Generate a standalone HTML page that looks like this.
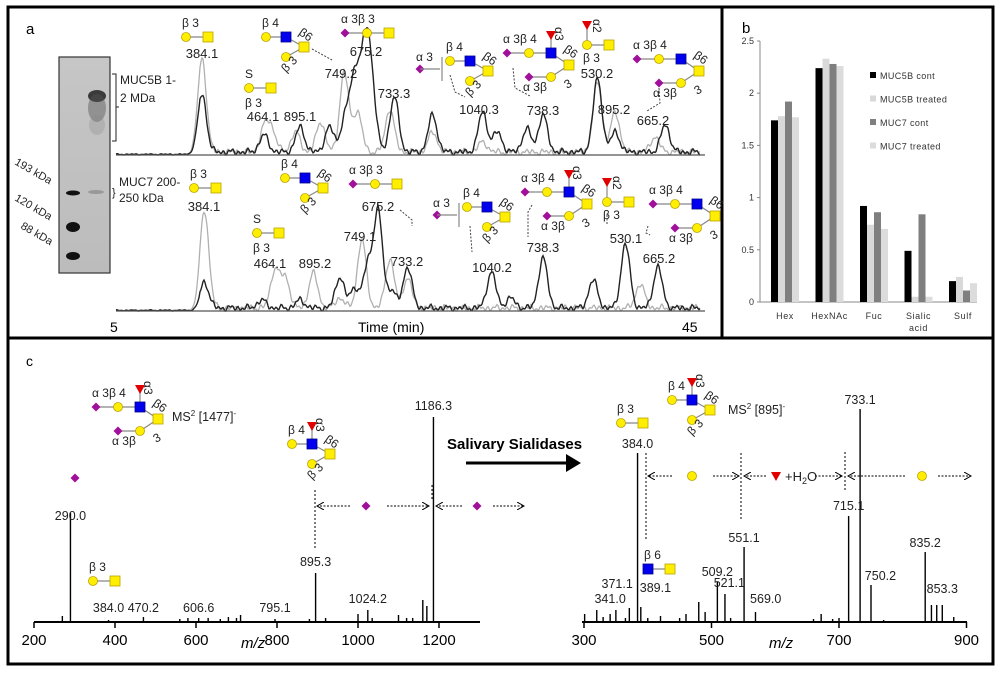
<!DOCTYPE html>
<html><head><meta charset="utf-8"><style>
html,body{margin:0;padding:0;background:#fff}
svg{display:block;font-family:"Liberation Sans",sans-serif}
</style></head><body>
<svg id="fig" width="1000" height="674" viewBox="0 0 1000 674">
<defs>
<linearGradient id="gel" x1="0" y1="0" x2="0" y2="1"><stop offset="0" stop-color="#c6c6c6"/><stop offset="1" stop-color="#bcbcbc"/></linearGradient>
<marker id="ah" markerWidth="8" markerHeight="8" refX="7" refY="4" orient="auto"><path d="M0,0 L7,4 L0,8" fill="none" stroke="#000" stroke-width="1"/></marker>
<marker id="bigah" markerWidth="6" markerHeight="6" refX="4" refY="3" orient="auto"><path d="M0,0 L5,3 L0,6 Z" fill="#000"/></marker>
</defs>
<rect x="8" y="7" width="985" height="657" fill="none" stroke="#000" stroke-width="3"/>
<line x1="722" y1="7" x2="722" y2="338" stroke="#000" stroke-width="3"/>
<line x1="8" y1="338" x2="993" y2="338" stroke="#000" stroke-width="3"/>
<text x="26" y="34" font-size="15">a</text>
<text x="742" y="33" font-size="15">b</text>
<text x="26" y="366" font-size="14">c</text>

<g>
<rect x="59" y="57" width="51" height="216" fill="url(#gel)" stroke="#333" stroke-width="1.2"/>
<ellipse cx="97" cy="96" rx="9" ry="6" fill="#222" opacity="0.85"/>
<ellipse cx="97" cy="108" rx="9" ry="14" fill="#555" opacity="0.45"/>
<ellipse cx="97" cy="125" rx="8" ry="10" fill="#888" opacity="0.3"/>
<ellipse cx="96" cy="192" rx="8" ry="2" fill="#999"/>
<ellipse cx="73" cy="193" rx="7" ry="2.5" fill="#111"/>
<ellipse cx="73" cy="227" rx="7" ry="5" fill="#111"/>
<ellipse cx="73" cy="256" rx="7" ry="4" fill="#111"/>
</g>
<g font-size="12" fill="#222">
<text x="120" y="84">MUC5B 1-</text><text x="120" y="102">2 MDa</text>
<path d="M112,74 h4 v67 h-4 M116,107 h3" fill="none" stroke="#222"/>
<text x="119" y="186">MUC7 200-</text><text x="119" y="202">250 kDa</text>
<text x="112" y="196" font-size="11">}</text>
<text transform="translate(14,164) rotate(30)" font-size="11">193 kDa</text>
<text transform="translate(14,200) rotate(30)" font-size="11">120 kDa</text>
<text transform="translate(20,228) rotate(30)" font-size="11">88 kDa</text>
</g>
<g id="chrom"></g>
<g id="barb"></g>
<g id="specs"></g>
<g id="glycans"></g>
</svg>
<script>
// ---------- Panel a chromatogram data (retention time min, intensity a.u.) ----------
const topBlackTimes=[10.84,15.05,17.5,19.5,20.5,21.0,21.4,21.98,22.4,23.9,26.5,29.9,30.9,32.9,34.0,37.7,38.9,42.3];
const topBlackInt=[58,17,25,25,27,40,60,97,50,55,37,40,20,23,37,73,20,27];
const topGrayTimes=[10.84,15.1,15.6,17.2,18.9,20.5,21.4,23.6,26.5,29.9,37.7,38.9,41.6];
const topGrayInt=[93,25,20,20,30,80,40,43,20,10,70,40,15];
const botBlackTimes=[11.0,14.9,17.5,20.2,21.2,22.1,22.8,23.7,24.8,30.5,31.8,34.0,37.4,39.6,41.8];
const botBlackInt=[26,8,8,31,20,43,96,18,41,36,10,50,28,64,41];
const botGrayTimes=[11.0,15.8,16.5,18.4,20.2,21.7,23.6,24.8,40.6];
const botGrayInt=[98,38,30,35,10,68,49,30,24];
// ---------- Panel b data ----------
const bCategories=["Hex","HexNAc","Fuc","Sialic acid","Sulf"];
const bSeriesNames=["MUC5B cont","MUC5B treated","MUC7 cont","MUC7 treated"];
const muc5bCont=[1.74,2.24,0.92,0.49,0.20];
const muc5bTreated=[1.78,2.33,0.74,0.05,0.24];
const muc7Cont=[1.92,2.28,0.86,0.84,0.11];
const muc7Treated=[1.77,2.26,0.70,0.05,0.18];
const bTicks=[0,0.5,1,1.5,2,2.5];
// ---------- Panel c spectra data ----------
const leftMz=[270,290.0,384.0,470.2,560,580,606.6,630,660,680,700,710,795.1,880,895.3,920,1000,1024.2,1035,1100,1120,1135,1160,1170,1186.3];
const leftInt=[6,109,2,5,3,4,4,4,3,5,4,7,3,3,49,4,8,12,4,7,4,4,22,16,205];
const leftLabels=[["290.0",290,520],["384.0",384,612],["470.2",470,612],["606.6",606.6,612],["795.1",795.1,612],["895.3",895.3,566],["1024.2",1024.2,603],["1186.3",1186.3,410]];
const leftTicks=[200,400,600,800,1000,1200];
const rightMz=[301,320,330,341.0,350,365,371.1,384.0,389.1,400,420,450,460,480,490,509.2,521.1,530,551.1,569.0,660,672,690,700,715.1,733.1,750.2,770,835.2,845,853.3,862,880];
const rightInt=[8,12,5,8,12,4,14,169,15,4,6,4,8,20,10,40,28,4,75,10,3,8,3,4,106,213,37,2,70,17,17,17,5];
const rightLabels=[["341.0",341,603],["371.1",352,588],["389.1",412,592],["384.0",384,448],["509.2",509.2,576],["521.1",528,587],["551.1",551.1,542],["569.0",585,603],["715.1",715.1,510],["733.1",733.1,404],["750.2",765,580],["835.2",835.2,547],["853.3",862,593]];
const rightTicks=[300,500,700,900];

const NS="http://www.w3.org/2000/svg";
function mk(parent,tag,attrs,text){const e=document.createElementNS(NS,tag);for(const k in attrs)e.setAttribute(k,attrs[k]);if(text!==undefined)e.textContent=text;parent.appendChild(e);return e;}

// ----- chromatograms -----
const chrom=document.getElementById('chrom');
function trace(times,ints,base,color,name,width,ph){
  let d="";
  for(let x=116;x<=700;x+=1){
    const t=5+(x-116)*40/589;
    let v=0;
    for(let i=0;i<times.length;i++){const dt=(t-times[i])/0.3;v+=ints[i]*Math.exp(-dt*dt/2);}
    let n=3+2.5*Math.sin(x*0.55+ph)*Math.sin(x*0.17+ph)+1.5*Math.sin(x*1.3+ph);
    if(x<200)n*=0.2;
    v+=Math.max(0,n);
    d+=(x===116?"M":"L")+x+","+(base-v).toFixed(1);
  }
  const p=mk(chrom,'path',{d:d,fill:'none',stroke:color,'stroke-width':width});
  
  
}
trace(topGrayTimes,topGrayInt,155,'#b0b0b0','muc5b-treated-trace',1.3,1.0);
trace(topBlackTimes,topBlackInt,155,'#222','muc5b-control-trace',1.4,0);
trace(botGrayTimes,botGrayInt,311,'#b0b0b0','muc7-treated-trace',1.3,2.0);
trace(botBlackTimes,botBlackInt,311,'#222','muc7-control-trace',1.4,0.5);
let ax1=mk(chrom,'line',{x1:116,y1:155,x2:705,y2:155,stroke:'#555','stroke-width':1.3});

let ax2=mk(chrom,'line',{x1:116,y1:311,x2:705,y2:311,stroke:'#555','stroke-width':1.3});

let t5=mk(chrom,'text',{x:110,y:332,'font-size':14},'5');
let t45=mk(chrom,'text',{x:682,y:332,'font-size':14},'45');
let tt=mk(chrom,'text',{x:358,y:332,'font-size':14},'Time (min)');
const chromLabels=[["384.1",202,58],["464.1",263,121],["895.1",300,121],["749.2",341,78],["675.2",366,56],["733.3",394,98],["1040.3",479,114],["738.3",543,115],["530.2",597,78],["895.2",614,114],["665.2",653,125],
["384.1",204,211],["464.1",270,268],["895.2",315,268],["749.1",360,241],["675.2",378,211],["733.2",407,266],["1040.2",492,272],["738.3",543,252],["530.1",626,243],["665.2",659,263]];
chromLabels.forEach(l=>{const e=mk(chrom,'text',{x:l[1],y:l[2],'font-size':13,'text-anchor':'middle',fill:'#222'},l[0]);});
const leaders=["M312,49 L332,60","M450,75 L455,92 L465,97","M513,68 L515,88 L530,96","M659,88 L660,103 L647,111","M400,210 L412,220 L412,226","M470,226 L472,252","M532,205 L528,212 L528,237","M648,226 L646,233 L650,235","M607,215 L607,225"];
leaders.forEach(d=>{const e=mk(chrom,'path',{d:d,fill:'none',stroke:'#444','stroke-dasharray':'2,1.5'});});

// ----- panel b bar chart -----
const barb=document.getElementById('barb');
const by=v=>302-v*(261/2.5);
const bx=i=>785+i*44.5;
const bColors=['#000','#d9d9d9','#7f7f7f','#dcdcdc'];
const bSeries=[muc5bCont,muc5bTreated,muc7Cont,muc7Treated];
let yl=mk(barb,'line',{x1:760,y1:41,x2:760,y2:302,stroke:'#888'});
let xl=mk(barb,'line',{x1:760,y1:302,x2:977,y2:302,stroke:'#888'});
bTicks.forEach(v=>{const e=mk(barb,'text',{x:754,y:by(v)+3,'font-size':9,'text-anchor':'end',fill:'#333'},String(v));
 mk(barb,'line',{x1:757,y1:by(v),x2:760,y2:by(v),stroke:'#888'});});
bSeries.forEach((s,k)=>s.forEach((v,i)=>{const r=mk(barb,'rect',{x:bx(i)-14+k*7,y:by(v),width:7,height:302-by(v),fill:bColors[k]});}));
bCategories.forEach((c,i)=>{const parts=c==="Sialic acid"?["Sialic","acid"]:[c];parts.forEach((p,j)=>{const e=mk(barb,'text',{x:bx(i),y:319+j*12,'font-size':9,'text-anchor':'middle',fill:'#333','letter-spacing':'0.6'},p);});});
bSeriesNames.forEach((n,k)=>{const y=76+k*23.5;const r=mk(barb,'rect',{x:870,y:y-4,width:6,height:6,fill:bColors[k]});
 const e=mk(barb,'text',{x:880,y:y+3,'font-size':9,fill:'#333','letter-spacing':'0.4'},n);});

// ----- panel c spectra -----
const sp=document.getElementById('specs');
const lx=m=>34+(m-200)*0.405;
const rx=m=>584+(m-300)*0.6375;
function spectrum(mzs,ints,xf,x0,x1,ticks,labels,name){
  const a=mk(sp,'line',{x1:x0,y1:622,x2:x1,y2:622,stroke:'#000','stroke-width':2});
  mzs.forEach((m,i)=>{const l=mk(sp,'line',{x1:xf(m),y1:622,x2:xf(m),y2:622-ints[i],stroke:'#000','stroke-width':1.4});});
  ticks.forEach(t=>{mk(sp,'line',{x1:xf(t),y1:622,x2:xf(t),y2:628,stroke:'#000','stroke-width':1.5});const e=mk(sp,'text',{x:xf(t),y:645,'font-size':15,'text-anchor':'middle'},String(t));});
  labels.forEach(l=>{const e=mk(sp,'text',{x:xf(l[1]),y:l[2],'font-size':12.5,'text-anchor':'middle',fill:'#222'},l[0]);});
}
spectrum(leftMz,leftInt,lx,34,480,leftTicks,leftLabels,'left-spectrum');
spectrum(rightMz,rightInt,rx,582,967,rightTicks,rightLabels,'right-spectrum');
let mz1=mk(sp,'text',{x:241,y:648,'font-size':15,'font-style':'italic'},'m/z');
let mz2=mk(sp,'text',{x:769,y:648,'font-size':15,'font-style':'italic'},'m/z');
let sal=mk(sp,'text',{x:447,y:449,'font-size':15,'font-weight':'bold'},'Salivary Sialidases');
let arr=mk(sp,'line',{x1:466,y1:463,x2:578,y2:463,stroke:'#000','stroke-width':3,'marker-end':'url(#bigah)'});
const dashLines=[[315,490,315,548],[432,485,432,500],[646,453,646,540],[741,453,741,520],[845,452,845,490]];
dashLines.forEach(d=>{const e=mk(sp,'line',{x1:d[0],y1:d[1],x2:d[2],y2:d[3],stroke:'#000','stroke-dasharray':'2,2'});});
const arrows=[[350,506,317],[387,506,429],[462,506,436],[493,506,524],[672,476,648],[713,476,739],[766,476,744],[815,476,842],[905,476,848],[938,476,971]];
arrows.forEach(a=>{const e=mk(sp,'line',{x1:a[0],y1:a[1],x2:a[2],y2:a[1],stroke:'#000','stroke-dasharray':'2,1.5','marker-end':'url(#ah)'});});
let h2o=mk(sp,'text',{x:785,y:481,'font-size':13,fill:'#222'});
h2o.innerHTML='+H<tspan font-size="9" dy="3">2</tspan><tspan dy="-3">O</tspan>';
let ms1=mk(sp,'text',{x:172,y:421,'font-size':12.5,fill:'#222'});
ms1.innerHTML='MS<tspan font-size="8" dy="-5">2</tspan><tspan dy="5"> [1477]</tspan><tspan font-size="8" dy="-5">-</tspan>';
let ms2=mk(sp,'text',{x:728,y:414,'font-size':12.5,fill:'#222'});
ms2.innerHTML='MS<tspan font-size="8" dy="-5">2</tspan><tspan dy="5"> [895]</tspan><tspan font-size="8" dy="-5">-</tspan>';

// ----- glycan symbols -----
const gl=document.getElementById('glycans');
function C(g,x,y){mk(g,'circle',{cx:x,cy:y,r:4.5,fill:'#ffee00',stroke:'#b9a400','stroke-width':0.8});}
function S(g,x,y,c){mk(g,'rect',{x:x-5,y:y-5,width:10,height:10,fill:c||'#ffee00',stroke:c?'#00008a':'#b9a400','stroke-width':0.8});}
function D(g,x,y){mk(g,'path',{d:`M${x},${y-4.5} L${x+4.5},${y} L${x},${y+4.5} L${x-4.5},${y} Z`,fill:'#a0109a'});}
function T(g,x,y){mk(g,'path',{d:`M${x-5},${y-4} L${x+5},${y-4} L${x},${y+5} Z`,fill:'#e00000'});}
function L(g,x1,y1,x2,y2){mk(g,'line',{x1:x1,y1:y1,x2:x2,y2:y2,stroke:'#888','stroke-width':1.2});}
function Tx(g,x,y,s,sz,rot){const a={x:x,y:y,'font-size':sz||12,fill:'#222'};if(rot)a.transform=`rotate(${rot},${x},${y})`;mk(g,'text',a,s);}
function glycan(type,x,y){
  const g=mk(gl,'g',{transform:`translate(${x},${y})`});
  
  
  if(type==='core1'){L(g,0,0,22,0);C(g,0,0);S(g,22,0);Tx(g,-4,-10,'β 3');}
  else if(type==='score1'){L(g,0,0,22,0);C(g,0,0);S(g,22,0);Tx(g,-4,-10,'S');Tx(g,-4,19,'β 3');}
  else if(type==='sialyl'){L(g,0,0,44,0);D(g,0,0);C(g,22,0);S(g,44,0);Tx(g,-4,-10,'α 3β 3');}
  else if(type==='core2'||type==='core2f'){
    if(type==='core2f'){L(g,20,0,20,-16);T(g,20,-18);Tx(g,24,-26,'α3',12,90);}
    L(g,0,0,20,0);L(g,20,0,38,10);L(g,38,10,20,20);C(g,0,0);S(g,20,0,'#0000ee');S(g,38,10);C(g,20,20);
    Tx(g,-4,-10,'β 4');Tx(g,32,-3,'β6',12,35);Tx(g,20,36,'β 3',12,-45);}
  else if(type==='s1040'){D(g,0,0);L(g,0,0,20,0);L(g,22,-12,22,12);Tx(g,-4,-8,'α 3');
    const h=mk(g,'g',{transform:'translate(30,-8)'});L(h,0,0,20,0);L(h,20,0,38,10);L(h,38,10,20,20);C(h,0,0);S(h,20,0,'#0000ee');S(h,38,10);C(h,20,20);Tx(h,-4,-10,'β 4');Tx(h,32,-3,'β6',12,35);Tx(h,20,36,'β 3',12,-45);}
  else if(type==='ds'||type==='dsf'){
    if(type==='dsf'){L(g,44,0,44,-16);T(g,44,-18);Tx(g,48,-26,'α3',12,90);}
    L(g,0,0,44,0);L(g,44,0,62,12);L(g,62,12,44,24);L(g,44,24,22,24);D(g,0,0);C(g,22,0);S(g,44,0,'#0000ee');S(g,62,12);C(g,44,24);D(g,22,24);
    Tx(g,-4,-10,'α 3β 4');Tx(g,56,-2,'β6',12,35);Tx(g,16,38,'α 3β',12);Tx(g,60,36,'3',12,-30);}
  else if(type==='fcore1'){L(g,0,0,22,0);L(g,0,0,0,-18);T(g,0,-20);C(g,0,0);S(g,22,0);Tx(g,6,-26,'α2',12,90);Tx(g,-4,17,'β 3');}
  else if(type==='b6'){L(g,0,0,22,0);S(g,0,0,'#0000ee');S(g,22,0);Tx(g,-4,-10,'β 6');}
}
glycan('core1',186,37);glycan('score1',249,88);glycan('core2',266,37);glycan('sialyl',345,33);
glycan('s1040',420,69);glycan('dsf',507,53);glycan('fcore1',587,45);glycan('ds',637,59);
glycan('core1',194,188);glycan('score1',257,233);glycan('core2',285,178);glycan('sialyl',353,184);
glycan('s1040',437,215);glycan('dsf',525,192);glycan('fcore1',607,202);glycan('ds',653,204);
glycan('dsf',96,407);glycan('core2f',292,444);glycan('core1',93,581);
glycan('core1',621,423);glycan('core2f',672,400);glycan('b6',648,569);
(function(){const g=mk(gl,'g',{});D(g,75,478);D(g,366,506);D(g,477,506);C(g,692,476);T(g,776,476);C(g,922,476);})();
</script>
</body></html>
